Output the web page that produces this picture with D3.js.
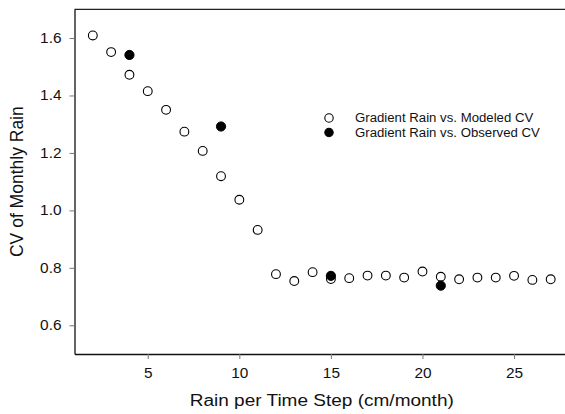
<!DOCTYPE html>
<html><head><meta charset="utf-8">
<script src="https://cdn.jsdelivr.net/npm/d3@7"></script>
<style>body{margin:0;background:#fff}svg{display:block;font-family:"Liberation Sans",Arial,sans-serif}</style>
</head><body>
<svg id="c" width="565" height="414"></svg>
<script>
const modeledX = [2,3,4,5,6,7,8,9,10,11,12,13,14,15,16,17,18,19,20,21,22,23,24,25,26,27];
const modeledCV = [1.609,1.551,1.472,1.415,1.350,1.274,1.207,1.119,1.037,0.932,0.778,0.754,0.785,0.761,0.764,0.773,0.773,0.766,0.787,0.769,0.760,0.766,0.766,0.772,0.758,0.760];
const observedX = [4,9,15,21];
const observedCV = [1.541,1.292,0.772,0.738];
const xTicks = [5,10,15,20,25];
const yTicks = [0.6,0.8,1.0,1.2,1.4,1.6];
const legendLabels = ["Gradient Rain vs. Modeled CV","Gradient Rain vs. Observed CV"];

const svg = d3.select("#c");
const L = 74.5, R = 569, T = 9.3, B = 354;
const x = d3.scaleLinear().domain([1,28]).range([L,R]);
const y = d3.scaleLinear().domain([0.5,1.7]).range([B,T]);
const SX = 1.1; // horizontal stretch of the reference's text
function stretch(sel){ sel.each(function(){ const w=this.getComputedTextLength(); d3.select(this).attr("textLength",w*SX).attr("lengthAdjust","spacingAndGlyphs"); }); }

svg.append("line").attr("x1",L).attr("x2",R).attr("y1",T).attr("y2",T).attr("stroke","#222").attr("stroke-width",1.3);

const xAxis = svg.append("g").attr("transform",`translate(0,${B})`)
  .call(d3.axisBottom(x).tickValues(xTicks).tickSize(5).tickSizeOuter(0).tickPadding(8).tickFormat(d3.format("d")));
const yAxis = svg.append("g").attr("transform",`translate(${L},0)`)
  .call(d3.axisLeft(y).tickValues(yTicks).tickSize(5).tickSizeOuter(0).tickPadding(8).tickFormat(d3.format(".1f")));
[xAxis,yAxis].forEach(a=>{
  a.select(".domain").attr("stroke","#111").attr("stroke-width",1.3);
  a.selectAll(".tick line").attr("stroke","#777");
  a.selectAll(".tick text").attr("font-size",14).attr("fill","#111").attr("font-family","Liberation Sans, Arial, sans-serif");
});
xAxis.selectAll(".tick text").attr("dy","0.75em");
stretch(xAxis.selectAll(".tick text"));
stretch(yAxis.selectAll(".tick text"));

svg.append("g").selectAll("circle").data(modeledX).join("circle")
  .attr("cx",(d)=>x(d)).attr("cy",(d,i)=>y(modeledCV[i])).attr("r",4.4)
  .attr("fill","#fff").attr("stroke","#000").attr("stroke-width",1.1);
svg.append("g").selectAll("circle").data(observedX).join("circle")
  .attr("cx",(d)=>x(d)).attr("cy",(d,i)=>y(observedCV[i])).attr("r",4.6)
  .attr("fill","#000").attr("stroke","#000").attr("stroke-width",1);

const lg = svg.append("g").attr("transform","translate(329,118)");
legendLabels.forEach((t,i)=>{
  lg.append("circle").attr("cx",0).attr("cy",i*14.5).attr("r",4.2)
    .attr("fill",i?"#000":"#fff").attr("stroke","#000").attr("stroke-width",1.1);
  lg.append("text").attr("x",26).attr("y",i*14.5+4.3).attr("font-size",12).attr("fill","#111").text(t);
});
stretch(lg.selectAll("text"));

const xt = svg.append("text").attr("x",(L+R)/2).attr("y",405.5).attr("text-anchor","middle").attr("font-size",17.3).attr("fill","#111")
  .text("Rain per Time Step (cm/month)");
stretch(xt);
svg.append("text").attr("transform",`translate(23,${(T+B)/2}) rotate(-90)`).attr("text-anchor","middle").attr("font-size",17.5).attr("fill","#111")
  .text("CV of Monthly Rain");
</script>
</body></html>
